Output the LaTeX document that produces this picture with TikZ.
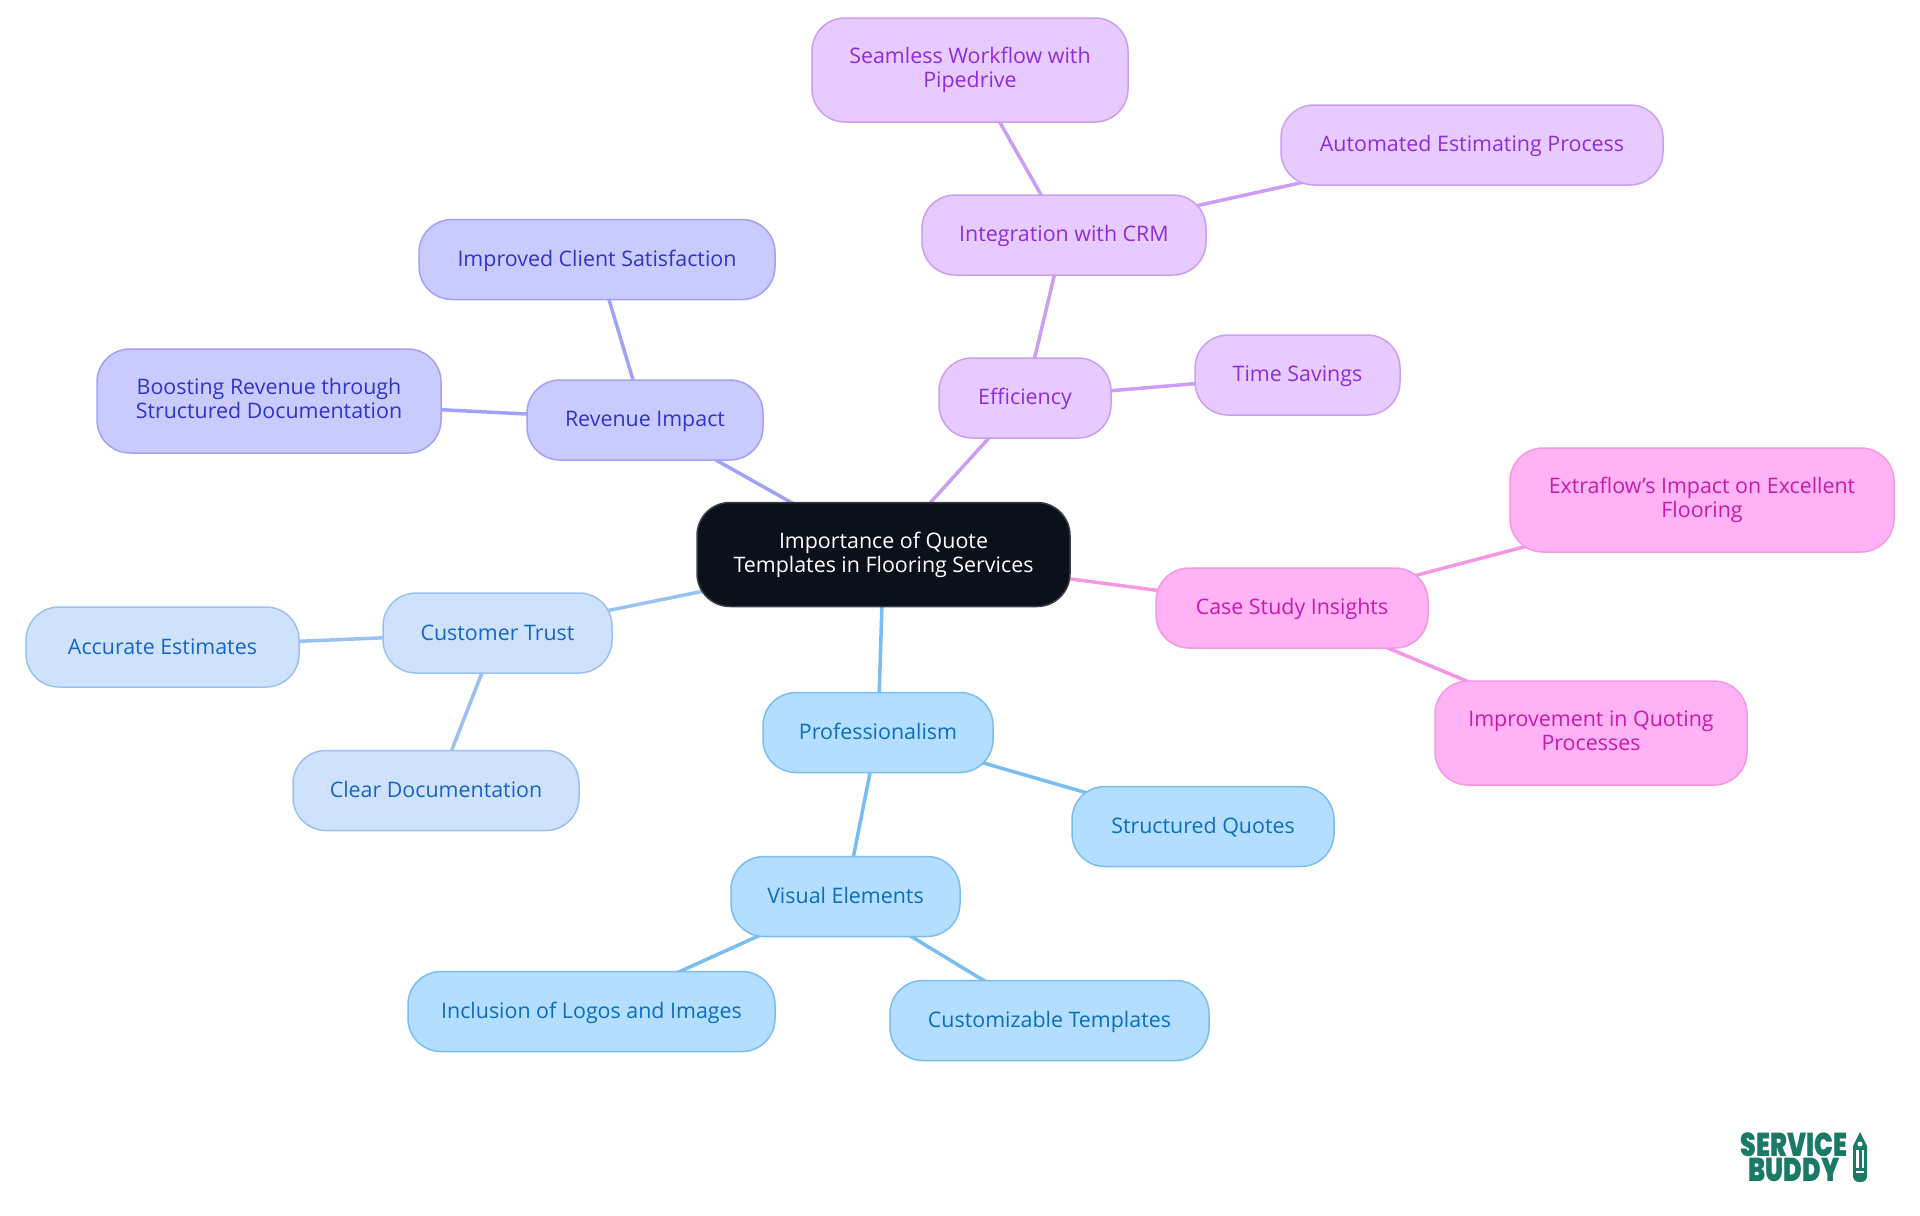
\documentclass[tikz,border=0pt]{standalone}
\usepackage{fontspec}
\setmainfont{Open Sans}
\newfontfamily\logofont{Poppins Black}[FakeStretch=0.76]
\usetikzlibrary{backgrounds}
\definecolor{rootfill}{HTML}{0B111A}
\definecolor{rootline}{HTML}{3A3E44}
\definecolor{proffill}{HTML}{B3DEFF}
\definecolor{profline}{HTML}{7ABEF1}
\definecolor{proftext}{HTML}{0A6EBD}
\definecolor{trustfill}{HTML}{CFE2FC}
\definecolor{trustline}{HTML}{99C2F3}
\definecolor{trusttext}{HTML}{1565C8}
\definecolor{revfill}{HTML}{C9CBFF}
\definecolor{revline}{HTML}{9FA2F7}
\definecolor{revtext}{HTML}{2F34C8}
\definecolor{efffill}{HTML}{E7CBFF}
\definecolor{effline}{HTML}{CC9DF4}
\definecolor{efftext}{HTML}{8F2BDB}
\definecolor{casefill}{HTML}{FFB3F5}
\definecolor{caseline}{HTML}{F697E5}
\definecolor{casetext}{HTML}{C71BAD}
\definecolor{logogreen}{HTML}{1B7A66}
\tikzset{
    mapbox/.style={rectangle, rounded corners=16.5pt, line width=0.75pt, inner sep=0pt, align=center,
        minimum height=40pt, font=\fontsize{10.7}{12}\selectfont,
        execute at begin node={\rule{0pt}{9.5pt}}, execute at end node={\rule[-2.2pt]{0pt}{2.2pt}}},
    tallbox/.style={minimum height=52pt, execute at begin node={\rule{0pt}{14pt}}},
    rootbox/.style={mapbox, draw=rootline, fill=rootfill, text=white, tallbox},
    profbox/.style={mapbox, draw=profline, fill=proffill, text=proftext},
    trustbox/.style={mapbox, draw=trustline, fill=trustfill, text=trusttext},
    revbox/.style={mapbox, draw=revline, fill=revfill, text=revtext},
    effbox/.style={mapbox, draw=effline, fill=efffill, text=efftext},
    casebox/.style={mapbox, draw=caseline, fill=casefill, text=casetext},
    link/.style={line width=1.75pt},
    logotext/.style={inner sep=0pt, align=center, text=logogreen, font=\logofont\fontsize{16.5}{12.25}\selectfont}
}

\begin{document}
\begin{tikzpicture}[x=0.5pt, y=-0.5pt]
    \useasboundingbox (0,0) rectangle (1920,1215);

    % Centre
    \node[rootbox, minimum width=186.5pt] (root) at (883.5,554.5)
        {Importance of Quote\\Templates in Flooring Services};

    % Revenue branch
    \node[revbox, minimum width=118pt] (revenue) at (645,420) {Revenue Impact};
    \node[revbox, minimum width=178pt] (satisfaction) at (597,259.5) {Improved Client Satisfaction};
    \node[revbox, tallbox, minimum width=172pt] (boosting) at (269,401)
        {Boosting Revenue through\\Structured Documentation};

    % Efficiency branch
    \node[effbox, minimum width=86pt] (efficiency) at (1025,398) {Efficiency};
    \node[effbox, minimum width=142pt] (crm) at (1064,235) {Integration with CRM};
    \node[effbox, tallbox, minimum width=158pt] (pipedrive) at (970,70)
        {Seamless Workflow with\\Pipedrive};
    \node[effbox, minimum width=191pt] (estimating) at (1472,145) {Automated Estimating Process};
    \node[effbox, minimum width=102.5pt] (timesave) at (1297.5,375) {Time Savings};

    % Case study branch
    \node[casebox, minimum width=136pt] (casestudy) at (1292,608) {Case Study Insights};
    \node[casebox, tallbox, minimum width=192pt] (extraflow) at (1702,500)
        {Extraflow's Impact on Excellent\\Flooring};
    \node[casebox, tallbox, minimum width=156pt] (quoting) at (1591,733)
        {Improvement in Quoting\\Processes};

    % Customer trust branch
    \node[trustbox, minimum width=114.5pt] (trust) at (497.5,633) {Customer Trust};
    \node[trustbox, minimum width=136.5pt] (accurate) at (162.5,647) {Accurate Estimates};
    \node[trustbox, minimum width=143pt] (cleardoc) at (436,790.5) {Clear Documentation};

    % Professionalism branch
    \node[profbox, minimum width=115pt] (professional) at (878,732.5) {Professionalism};
    \node[profbox, minimum width=131pt] (structured) at (1203,826.5) {Structured Quotes};
    \node[profbox, minimum width=114.5pt] (visual) at (845.5,896.5) {Visual Elements};
    \node[profbox, minimum width=183.5pt] (logos) at (591.5,1011.5) {Inclusion of Logos and Images};
    \node[profbox, minimum width=159.5pt] (templates) at (1049.5,1020.5) {Customizable Templates};

    % Links run behind the boxes
    \begin{pgfonlayer}{background}
        \draw[link, color=revline] (root.center) -- (revenue.center);
        \draw[link, color=revline] (revenue.center) -- (satisfaction.center);
        \draw[link, color=revline] (revenue.center) -- (boosting.center);
        \draw[link, color=effline] (root.center) -- (efficiency.center);
        \draw[link, color=effline] (efficiency.center) -- (crm.center);
        \draw[link, color=effline] (efficiency.center) -- (timesave.center);
        \draw[link, color=effline] (crm.center) -- (pipedrive.center);
        \draw[link, color=effline] (crm.center) -- (estimating.center);
        \draw[link, color=caseline] (root.center) -- (casestudy.center);
        \draw[link, color=caseline] (casestudy.center) -- (extraflow.center);
        \draw[link, color=caseline] (casestudy.center) -- (quoting.center);
        \draw[link, color=trustline] (root.center) -- (trust.center);
        \draw[link, color=trustline] (trust.center) -- (accurate.center);
        \draw[link, color=trustline] (trust.center) -- (cleardoc.center);
        \draw[link, color=profline] (root.center) -- (professional.center);
        \draw[link, color=profline] (professional.center) -- (structured.center);
        \draw[link, color=profline] (professional.center) -- (visual.center);
        \draw[link, color=profline] (visual.center) -- (logos.center);
        \draw[link, color=profline] (visual.center) -- (templates.center);
    \end{pgfonlayer}

    % Logo
    \node[logotext] (logo) at (1794,1157) {SERVICE\\BUDDY};
    \fill[logogreen] (1853,1146) -- (1860,1132) -- (1867,1146) [rounded corners=3pt] -- (1867,1182) -- (1853,1182) [sharp corners] -- cycle;
    \fill[white] (1860,1144) circle (2.5);
    \fill[white] (1856,1150) rectangle (1858.5,1168);
    \fill[white] (1861.5,1150) rectangle (1864,1168);
    \fill[white] (1856,1171) rectangle (1864,1173);
\end{tikzpicture}
\end{document}
